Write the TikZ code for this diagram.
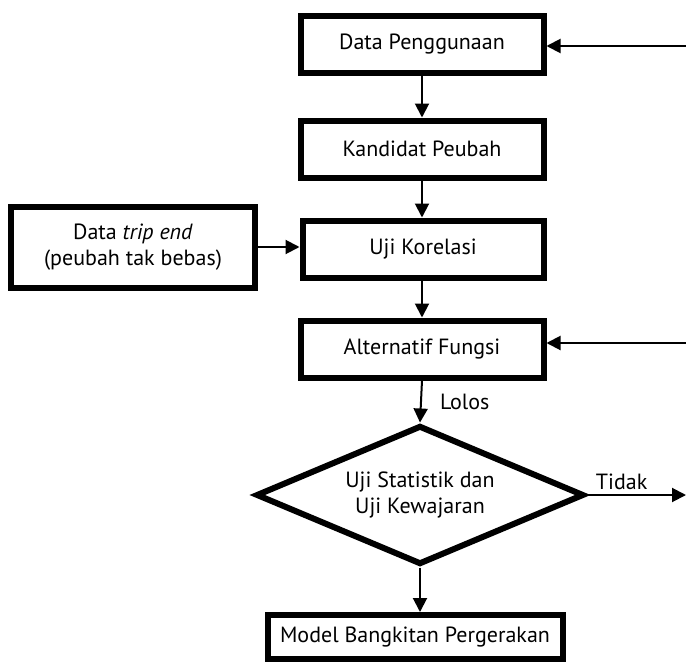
\documentclass[tikz,border=0pt]{standalone}
\usepackage{fontspec}
\setmainfont{PT Sans}
\usetikzlibrary{calc,positioning,arrows.meta,shapes.geometric}

\begin{document}
\begin{tikzpicture}[
    x=0.5pt, y=-0.5pt,
    box/.style={rectangle, draw, line width=3pt, fill=white, minimum width=121.5pt, minimum height=28.5pt, align=center, inner sep=2pt, font=\fontsize{11}{13}\selectfont},
    decide/.style={diamond, draw, line width=3pt, aspect=2.3, inner sep=0pt, minimum width=164pt, minimum height=69.5pt, align=center, font=\fontsize{11}{13}\selectfont},
    arrow/.style={-{Triangle[length=7pt,width=7pt]}, line width=1pt},
    lbl/.style={font=\fontsize{11}{13}\selectfont, inner sep=1pt}
]
\useasboundingbox (0,0) rectangle (686,664);

\node[box] (pakai) at (422,44) {Data Penggunaan};
\node[box] (kandidat) at (422,149) {Kandidat Peubah};
\node[box, minimum width=120.5pt] (korelasi) at (423,249) {Uji Korelasi};
\node[box, minimum width=122pt, minimum height=40.5pt] (tripend) at (133,247) {Data \textit{trip end}\\(peubah tak bebas)};
\node[box] (alternatif) at (422,349) {Alternatif Fungsi};
\node[decide] (uji) at (420,495) {Uji Statistik dan\\Uji Kewajaran};
\node[box, minimum width=147.5pt, minimum height=22pt] (model) at (415,637) {Model Bangkitan Pergerakan};

\coordinate (balik1) at (686,46);
\coordinate (balik2) at (686,343);
\coordinate (gagal) at (686,495);

\draw[arrow] (balik1) -- (balik1 -| pakai.east);
\draw[arrow] (pakai.south) -- (kandidat.north);
\draw[arrow] (kandidat.south) -- (korelasi.north -| kandidat.south);
\draw[arrow] (tripend.east) -- (tripend.east -| korelasi.west);
\draw[arrow] (korelasi.south -| kandidat.south) -- (alternatif.north);
\draw[arrow] (balik2) -- (balik2 -| alternatif.east);
\draw[arrow] (alternatif.south) -- node[lbl, right=8pt] {Lolos} (uji.north);
\draw[arrow] (uji.east) -- node[lbl, above=1pt, pos=0.35] {Tidak} (gagal);
\draw[arrow] (uji.south) -- (uji.south |- model.north);
\end{tikzpicture}
\end{document}
